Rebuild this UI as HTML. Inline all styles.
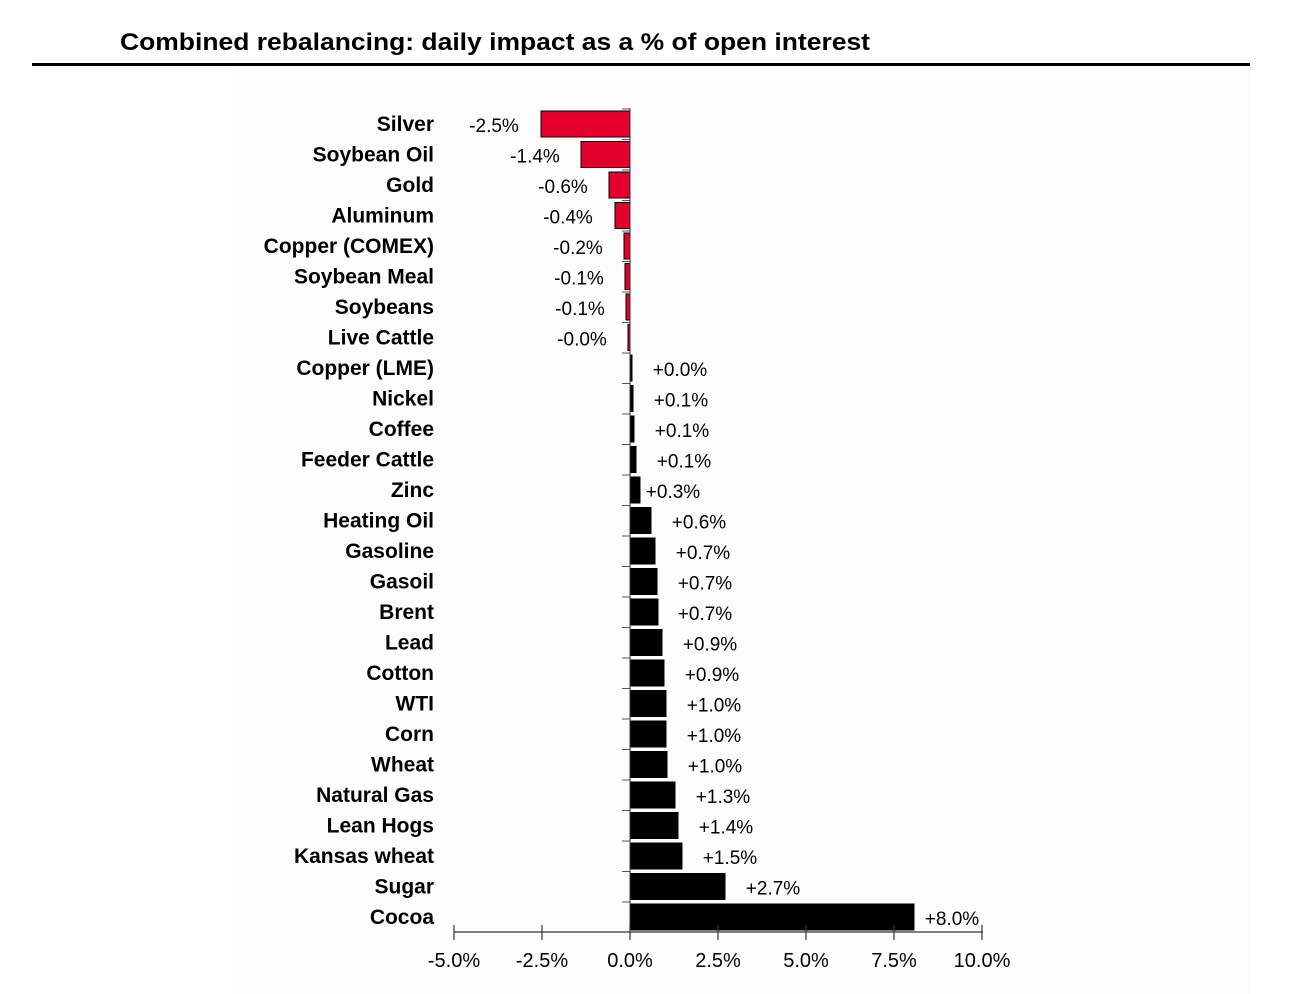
<!DOCTYPE html>
<html><head><meta charset="utf-8"><style>
html,body{margin:0;padding:0;background:#fff;}
svg{display:block;}
</style></head><body>
<svg width="1291" height="994" viewBox="0 0 1291 994" xmlns="http://www.w3.org/2000/svg" font-family="Liberation Sans, sans-serif">
<rect x="232" y="70" width="1018" height="924" fill="#fdfdfd"/>
<text x="120" y="50" font-size="24" font-weight="bold" textLength="750" lengthAdjust="spacingAndGlyphs">Combined rebalancing: daily impact as a % of open interest</text>
<rect x="32" y="63" width="1218" height="3" fill="#000"/>
<g id="rows"></g>
<line x1="630" y1="108" x2="630" y2="932" stroke="#333" stroke-width="1"/>
<line x1="454" y1="932" x2="983" y2="932" stroke="#333" stroke-width="1.2"/>
<g stroke="#333" stroke-width="1.2">
<line x1="454" y1="925" x2="454" y2="940"/><line x1="542" y1="925" x2="542" y2="940"/><line x1="630" y1="925" x2="630" y2="940"/><line x1="718" y1="925" x2="718" y2="940"/><line x1="806" y1="925" x2="806" y2="940"/><line x1="894" y1="925" x2="894" y2="940"/><line x1="982" y1="925" x2="982" y2="940"/>
</g>
<g font-size="20" text-anchor="middle">
<text x="454" y="967">-5.0%</text><text x="542" y="967">-2.5%</text><text x="630" y="967">0.0%</text><text x="718" y="967">2.5%</text><text x="806" y="967">5.0%</text><text x="894" y="967">7.5%</text><text x="982" y="967">10.0%</text>
</g>
</svg>
<script>
var d=[["Silver",541,"-2.5%",494],["Soybean Oil",581,"-1.4%",535],["Gold",609,"-0.6%",563],["Aluminum",615,"-0.4%",568],["Copper (COMEX)",624,"-0.2%",578],["Soybean Meal",625,"-0.1%",579],["Soybeans",626,"-0.1%",580],["Live Cattle",628,"-0.0%",582],
["Copper (LME)",632,"+0.0%",680],["Nickel",633,"+0.1%",681],["Coffee",634,"+0.1%",682],["Feeder Cattle",636,"+0.1%",684],["Zinc",640,"+0.3%",673],["Heating Oil",651,"+0.6%",699],["Gasoline",655,"+0.7%",703],["Gasoil",657,"+0.7%",705],["Brent",658,"+0.7%",705],["Lead",662,"+0.9%",710],["Cotton",664,"+0.9%",712],["WTI",666,"+1.0%",714],["Corn",666,"+1.0%",714],["Wheat",667,"+1.0%",715],["Natural Gas",675,"+1.3%",723],["Lean Hogs",678,"+1.4%",726],["Kansas wheat",682,"+1.5%",730],["Sugar",725,"+2.7%",773],["Cocoa",914,"+8.0%",952]];
var s="",z=630;
d.forEach(function(r,i){var c=124+i*30.5;var neg=r[2][0]=="-";
var x=neg?r[1]:z,w=neg?z-r[1]:r[1]-z;
s+='<rect x="'+x+'" y="'+(c-13)+'" width="'+Math.max(w,1.5)+'" height="26" fill="'+(neg?'#e4002b':'#000')+'" stroke="#000" stroke-width="1"/>';
s+='<line x1="622" y1="'+(c-15)+'" x2="630" y2="'+(c-15)+'" stroke="#555"/>';
s+='<text x="434" y="'+(c+7)+'" font-size="21" font-weight="bold" text-anchor="end">'+r[0]+'</text>';
s+='<text x="'+r[3]+'" y="'+(c+8)+'" font-size="19" text-anchor="middle">'+r[2]+'</text>';});
document.getElementById("rows").innerHTML=s;
</script>
</body></html>
